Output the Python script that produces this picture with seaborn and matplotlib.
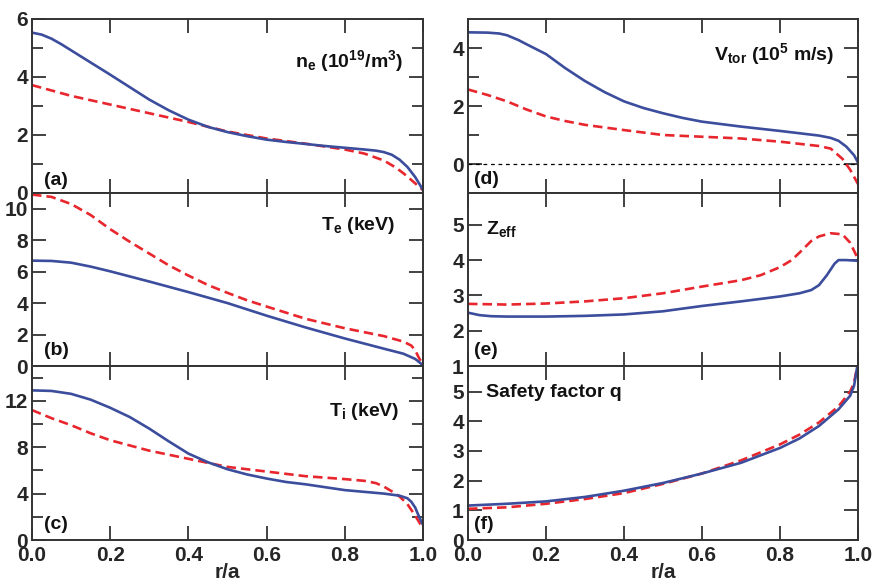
import numpy as np
import pandas as pd
import matplotlib
matplotlib.use("Agg")
import matplotlib.pyplot as plt
import seaborn as sns
from matplotlib.ticker import FixedLocator

# ---------------- data ----------------
r_ne_b = [0, 0.025, 0.05, 0.075, 0.1, 0.15, 0.2, 0.25, 0.3, 0.35, 0.4, 0.45, 0.5, 0.55, 0.6, 0.65, 0.7, 0.75, 0.8, 0.85, 0.88, 0.9, 0.92, 0.94, 0.96, 0.98, 0.99, 1.0]
ne_blue = [5.53, 5.46, 5.32, 5.13, 4.92, 4.5, 4.08, 3.65, 3.22, 2.85, 2.53, 2.28, 2.1, 1.96, 1.84, 1.76, 1.69, 1.62, 1.56, 1.5, 1.46, 1.41, 1.32, 1.15, 0.9, 0.55, 0.33, 0.1]
r_ne_r = [0, 0.1, 0.2, 0.3, 0.4, 0.5, 0.6, 0.7, 0.8, 0.85, 0.9, 0.93, 0.95, 0.97, 1.0]
ne_red = [3.72, 3.35, 3.05, 2.75, 2.45, 2.12, 1.88, 1.7, 1.5, 1.36, 1.12, 0.88, 0.68, 0.45, 0.1]

r_te_b = [0, 0.05, 0.1, 0.15, 0.2, 0.3, 0.4, 0.5, 0.6, 0.7, 0.8, 0.9, 0.95, 0.98, 1.0]
te_blue = [6.7, 6.68, 6.57, 6.32, 6.02, 5.37, 4.7, 4.0, 3.2, 2.45, 1.75, 1.1, 0.78, 0.45, 0.05]
r_te_r = [0, 0.05, 0.1, 0.15, 0.2, 0.25, 0.3, 0.35, 0.4, 0.45, 0.5, 0.55, 0.6, 0.7, 0.8, 0.9, 0.95, 0.97, 0.98, 0.99, 1.0]
te_red = [10.9, 10.75, 10.3, 9.6, 8.7, 7.9, 7.15, 6.4, 5.75, 5.15, 4.65, 4.18, 3.78, 3.0, 2.4, 1.9, 1.55, 1.3, 1.0, 0.5, 0.1]

r_ti_b = [0, 0.05, 0.1, 0.15, 0.2, 0.25, 0.3, 0.35, 0.4, 0.45, 0.5, 0.55, 0.6, 0.65, 0.7, 0.8, 0.9, 0.94, 0.96, 0.97, 0.98, 0.99, 1.0]
ti_blue = [12.9, 12.85, 12.6, 12.1, 11.4, 10.6, 9.6, 8.5, 7.45, 6.7, 6.1, 5.65, 5.3, 5.0, 4.8, 4.3, 4.0, 3.82, 3.6, 3.3, 2.8, 2.0, 1.3]
r_ti_r = [0, 0.05, 0.1, 0.15, 0.2, 0.3, 0.4, 0.5, 0.6, 0.7, 0.8, 0.85, 0.88, 0.9, 0.92, 0.94, 0.96, 0.98, 1.0]
ti_red = [11.2, 10.5, 9.9, 9.2, 8.6, 7.7, 7.0, 6.3, 5.9, 5.5, 5.25, 5.1, 4.9, 4.6, 4.2, 3.75, 3.1, 2.1, 1.0]

r_v_b = [0, 0.05, 0.08, 0.1, 0.13, 0.15, 0.2, 0.25, 0.3, 0.35, 0.4, 0.45, 0.5, 0.55, 0.6, 0.7, 0.8, 0.9, 0.93, 0.95, 0.97, 0.99, 1.0]
v_blue = [4.54, 4.53, 4.5, 4.44, 4.27, 4.13, 3.79, 3.3, 2.86, 2.48, 2.16, 1.93, 1.75, 1.59, 1.46, 1.29, 1.14, 0.98, 0.9, 0.8, 0.6, 0.3, 0.05]
r_v_r = [0, 0.05, 0.1, 0.15, 0.2, 0.25, 0.3, 0.4, 0.5, 0.6, 0.7, 0.8, 0.9, 0.93, 0.96, 0.98, 1.0]
v_red = [2.57, 2.38, 2.16, 1.88, 1.64, 1.48, 1.35, 1.17, 1.0, 0.94, 0.88, 0.77, 0.62, 0.53, 0.18, -0.2, -0.69]

r_z_b = [0, 0.03, 0.06, 0.1, 0.2, 0.3, 0.4, 0.5, 0.6, 0.7, 0.8, 0.85, 0.88, 0.9, 0.92, 0.94, 0.95, 0.97, 1.0]
z_blue = [2.51, 2.44, 2.41, 2.4, 2.4, 2.42, 2.46, 2.55, 2.7, 2.83, 2.97, 3.06, 3.15, 3.29, 3.57, 3.9, 4.0, 4.0, 3.98]
r_z_r = [0, 0.1, 0.2, 0.3, 0.4, 0.5, 0.6, 0.7, 0.75, 0.8, 0.83, 0.85, 0.88, 0.9, 0.93, 0.96, 0.98, 1.0]
z_red = [2.76, 2.74, 2.77, 2.83, 2.92, 3.06, 3.25, 3.43, 3.57, 3.8, 4.0, 4.21, 4.54, 4.67, 4.76, 4.73, 4.49, 4.03]

r_q_b = [0, 0.1, 0.2, 0.3, 0.4, 0.5, 0.6, 0.7, 0.8, 0.85, 0.9, 0.95, 0.98, 0.99, 1.0]
q_blue = [1.16, 1.22, 1.3, 1.45, 1.66, 1.92, 2.24, 2.6, 3.1, 3.42, 3.84, 4.4, 4.86, 5.2, 6.0]
r_q_r = [0, 0.1, 0.2, 0.3, 0.4, 0.5, 0.6, 0.7, 0.8, 0.85, 0.9, 0.95, 0.98, 0.99, 1.0]
q_red = [1.05, 1.1, 1.22, 1.38, 1.58, 1.89, 2.24, 2.68, 3.22, 3.55, 3.96, 4.5, 5.0, 5.3, 6.0]

x_ticks = [0.0, 0.2, 0.4, 0.6, 0.8, 1.0]
x_ticklabels = ["0.0", "0.2", "0.4", "0.6", "0.8", "1.0"]
x_label = "r/a"

# ---------------- style ----------------
sns.set_theme(style="ticks")
plt.rcParams["font.family"] = ["Liberation Sans", "DejaVu Sans"]
plt.rcParams["font.weight"] = "bold"
plt.rcParams["mathtext.fontset"] = "custom"
plt.rcParams["mathtext.rm"] = "Liberation Sans:bold"
plt.rcParams["mathtext.it"] = "Liberation Sans:bold"
plt.rcParams["mathtext.bf"] = "Liberation Sans:bold"
plt.rcParams["mathtext.default"] = "bf"

BLUE = "#3b4d9c"
RED = "#e8262d"
SPINE = "#333333"
DASH = (0, (3.6, 1.9))

fig = plt.figure(figsize=(8.72, 5.86), dpi=100)
W, H = 872.0, 586.0
rows_px = [(19, 193), (193, 366), (366, 540)]
cols_px = [(32, 423), (468, 858)]

def make_ax(col, row):
    (x0, x1), (y0, y1) = cols_px[col], rows_px[row]
    return fig.add_axes([x0 / W, 1 - y1 / H, (x1 - x0) / W, (y1 - y0) / H])

def style_ax(ax, ylim, major, minor, bottom):
    ax.set_xlim(0, 1)
    ax.set_ylim(*ylim)
    for s in ax.spines.values():
        s.set_color(SPINE)
        s.set_linewidth(1.4)
        s.set_visible(True)
    ax.xaxis.set_major_locator(FixedLocator(x_ticks))
    ax.yaxis.set_major_locator(FixedLocator(major))
    if minor:
        ax.yaxis.set_minor_locator(FixedLocator(minor))
    ax.tick_params(axis="both", which="major", direction="in", length=10, width=1.3,
                   color=SPINE, top=True, right=True, labelsize=15, pad=3)
    ax.tick_params(axis="y", which="minor", direction="in", length=8, width=1.3,
                   color=SPINE, left=True, right=True)
    ax.tick_params(axis="x", which="major", labelbottom=bottom, pad=4)
    for lab in ax.get_yticklabels() + ax.get_xticklabels():
        lab.set_fontweight("bold")
    ax.set_xlabel("")
    ax.set_ylabel("")
    if bottom:
        ax.set_xticklabels(x_ticklabels, fontsize=15, fontweight="bold")
        ax.set_xlabel(x_label, fontsize=15, fontweight="bold", labelpad=-1)

def draw(ax, xb, yb, xr, yr):
    sns.lineplot(x=xr, y=yr, ax=ax, color=RED, linewidth=1.9, linestyle=DASH, sort=False)
    sns.lineplot(x=xb, y=yb, ax=ax, color=BLUE, linewidth=1.9, sort=False)

def label(ax, x, y, s, ha="left", size=14):
    ax.text(x, y, s, transform=ax.transAxes, ha=ha, va="center", fontsize=size, fontweight="bold", color="#111111")

# (a) n_e
ax = make_ax(0, 0)
draw(ax, r_ne_b, ne_blue, r_ne_r, ne_red)
style_ax(ax, (0, 6), [0, 2, 4, 6], [1, 3, 5], False)
label(ax, 0.95, 0.76, r"n$_\mathrm{e}$ (10$^{19}$/m$^{3}$)", ha="right")
label(ax, 0.03, 0.07, "(a)")

# (b) T_e
ax = make_ax(0, 1)
draw(ax, r_te_b, te_blue, r_te_r, te_red)
style_ax(ax, (0, 11), [0, 2, 4, 6, 8, 10], None, False)
label(ax, 0.93, 0.81, r"T$_\mathrm{e}$ (keV)", ha="right")
label(ax, 0.03, 0.09, "(b)")

# (c) T_i
ax = make_ax(0, 2)
draw(ax, r_ti_b, ti_blue, r_ti_r, ti_red)
style_ax(ax, (0, 15), [0, 4, 8, 12], [2, 6, 10, 14], True)
label(ax, 0.94, 0.74, r"T$_\mathrm{i}$ (keV)", ha="right")
label(ax, 0.03, 0.09, "(c)")

# (d) V_tor
ax = make_ax(1, 0)
ax.axhline(0, color="black", linewidth=0.9, linestyle=(0, (3, 3)))
draw(ax, r_v_b, v_blue, r_v_r, v_red)
style_ax(ax, (-1, 5), [0, 2, 4], [-1, 1, 3], False)
label(ax, 0.94, 0.80, r"V$_\mathrm{tor}$ (10$^{5}$ m/s)", ha="right")
label(ax, 0.015, 0.08, "(d)")

# (e) Z_eff
ax = make_ax(1, 1)
draw(ax, r_z_b, z_blue, r_z_r, z_red)
style_ax(ax, (1, 5.9), [1, 2, 3, 4, 5], None, False)
label(ax, 0.045, 0.79, r"Z$_\mathrm{eff}$")
label(ax, 0.015, 0.09, "(e)")

# (f) q
ax = make_ax(1, 2)
draw(ax, r_q_b, q_blue, r_q_r, q_red)
style_ax(ax, (0, 5.86), [0, 1, 2, 3, 4, 5], None, True)
label(ax, 0.045, 0.85, "Safety factor q")
label(ax, 0.015, 0.09, "(f)")

fig.savefig("out.png", dpi=100)
